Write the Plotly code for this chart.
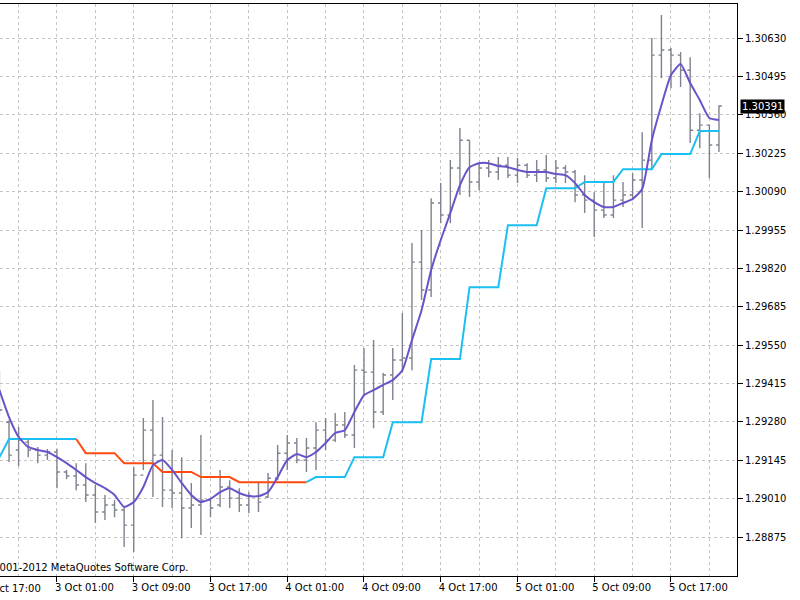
import plotly.graph_objects as go
import pandas as pd

# ---- data (EURUSD-style H1 bars, 2 Oct 19:00 .. 5 Oct 22:00) ----
first_bar = "2012-10-02 19:00"

open_ = [1.29445, 1.29279, 1.29181, 1.29209, 1.29181, 1.29163,
         1.29174, 1.29104, 1.29090, 1.29058, 1.29023, 1.28963, 1.28988, 1.28970, 1.28917, 1.29093,
         1.29251, 1.29163, 1.29040, 1.29030, 1.28977, 1.28988, 1.29005, 1.28988, 1.29051, 1.29012,
         1.28988, 1.29019, 1.29016, 1.29082, 1.29170, 1.29206, 1.29146, 1.29188, 1.29251, 1.29216,
         1.29269, 1.29234, 1.29462, 1.29455, 1.29315, 1.29445, 1.29498, 1.29505, 1.29842, 1.29744,
         1.30050, 1.30008, 1.30173, 1.30271, 1.30124, 1.30173, 1.30159, 1.30183, 1.30148, 1.30183,
         1.30148, 1.30166, 1.30138, 1.30173, 1.30159, 1.30078, 1.30060, 1.30025, 1.30008, 1.30060,
         1.30078, 1.30131, 1.30201, 1.30570, 1.30588, 1.30570, 1.30517, 1.30306, 1.30324, 1.30254]

high = [1.29462, 1.29286, 1.29262, 1.29223, 1.29192, 1.29185,
        1.29185, 1.29111, 1.29135, 1.29135, 1.29058, 1.29023, 1.29005, 1.28981, 1.29121, 1.29294,
        1.29357, 1.29297, 1.29181, 1.29156, 1.29065, 1.29234, 1.29012, 1.29111, 1.29075, 1.29047,
        1.29033, 1.29065, 1.29100, 1.29199, 1.29234, 1.29223, 1.29223, 1.29279, 1.29294, 1.29311,
        1.29315, 1.29480, 1.29540, 1.29568, 1.29452, 1.29540, 1.29663, 1.29909, 1.29955, 1.30067,
        1.30120, 1.30201, 1.30314, 1.30271, 1.30194, 1.30201, 1.30212, 1.30212, 1.30208, 1.30190,
        1.30201, 1.30219, 1.30201, 1.30183, 1.30166, 1.30148, 1.30088, 1.30120, 1.30148, 1.30124,
        1.30155, 1.30299, 1.30630, 1.30711, 1.30595, 1.30581, 1.30563, 1.30366, 1.30324, 1.30394]

low = [1.29304, 1.29139, 1.29125, 1.29156, 1.29135, 1.29146,
       1.29047, 1.29079, 1.29040, 1.28998, 1.28924, 1.28935, 1.28945, 1.28840, 1.28822, 1.29111,
       1.29016, 1.28981, 1.28977, 1.28871, 1.28907, 1.28882, 1.28945, 1.28981, 1.28977, 1.28963,
       1.28959, 1.28963, 1.29012, 1.29075, 1.29111, 1.29135, 1.29104, 1.29111, 1.29181, 1.29209,
       1.29223, 1.29188, 1.29374, 1.29258, 1.29304, 1.29357, 1.29455, 1.29462, 1.29709, 1.29719,
       1.29979, 1.29979, 1.30078, 1.30071, 1.30095, 1.30141, 1.30131, 1.30138, 1.30120, 1.30138,
       1.30124, 1.30124, 1.30120, 1.30120, 1.30053, 1.30015, 1.29930, 1.29997, 1.29997, 1.30036,
       1.30060, 1.29962, 1.30166, 1.30489, 1.30454, 1.30458, 1.30261, 1.30243, 1.30138, 1.30229]

close_ = [1.29322, 1.29163, 1.29216, 1.29181, 1.29163, 1.29174,
          1.29104, 1.29090, 1.29058, 1.29023, 1.28963, 1.28988, 1.28970, 1.28917, 1.29093, 1.29251,
          1.29163, 1.29040, 1.29030, 1.28977, 1.28988, 1.29005, 1.28977, 1.29051, 1.29012, 1.28988,
          1.29019, 1.28998, 1.29082, 1.29170, 1.29206, 1.29146, 1.29188, 1.29251, 1.29216, 1.29269,
          1.29234, 1.29462, 1.29455, 1.29315, 1.29445, 1.29498, 1.29505, 1.29842, 1.29744, 1.30050,
          1.30008, 1.30173, 1.30271, 1.30124, 1.30173, 1.30159, 1.30183, 1.30148, 1.30183, 1.30148,
          1.30166, 1.30138, 1.30173, 1.30159, 1.30078, 1.30060, 1.30025, 1.30008, 1.30060, 1.30078,
          1.30131, 1.30201, 1.30570, 1.30588, 1.30570, 1.30517, 1.30306, 1.30324, 1.30254, 1.30391]

# moving average line (purple)
ma = [1.29392, 1.29297, 1.29227, 1.29192, 1.29181, 1.29174,
      1.29156, 1.29135, 1.29111, 1.29086, 1.29065, 1.29047, 1.29023, 1.28981, 1.28998, 1.29051,
      1.29128, 1.29146, 1.29111, 1.29065, 1.29023, 1.28998, 1.29009, 1.29033, 1.29047, 1.29030,
      1.29019, 1.29019, 1.29033, 1.29086, 1.29146, 1.29167, 1.29156, 1.29174, 1.29206, 1.29241,
      1.29251, 1.29315, 1.29374, 1.29392, 1.29410, 1.29427, 1.29462, 1.29568, 1.29673, 1.29814,
      1.29920, 1.30015, 1.30113, 1.30176, 1.30190, 1.30190, 1.30180, 1.30176, 1.30166, 1.30159,
      1.30159, 1.30159, 1.30152, 1.30148, 1.30120, 1.30078, 1.30053, 1.30036, 1.30036, 1.30050,
      1.30064, 1.30099, 1.30271, 1.30394, 1.30500, 1.30539, 1.30472, 1.30412, 1.30349, 1.30342]

# higher-timeframe step line (cyan when rising, orange-red when falling)
step = [1.29156, 1.29220, 1.29220, 1.29220, 1.29220, 1.29220,
        1.29220, 1.29220, 1.29220, 1.29170, 1.29170, 1.29170, 1.29170, 1.29135, 1.29135, 1.29135,
        1.29135, 1.29104, 1.29104, 1.29104, 1.29104, 1.29086, 1.29086, 1.29086, 1.29086, 1.29068,
        1.29068, 1.29068, 1.29068, 1.29068, 1.29068, 1.29068, 1.29068, 1.29086, 1.29086, 1.29086,
        1.29086, 1.29156, 1.29156, 1.29156, 1.29156, 1.29279, 1.29279, 1.29279, 1.29279, 1.29501,
        1.29501, 1.29501, 1.29501, 1.29754, 1.29754, 1.29754, 1.29754, 1.29972, 1.29972, 1.29972,
        1.29972, 1.30102, 1.30102, 1.30102, 1.30102, 1.30124, 1.30124, 1.30124, 1.30124, 1.30169,
        1.30169, 1.30169, 1.30169, 1.30222, 1.30222, 1.30222, 1.30222, 1.30303, 1.30303, 1.30303]

price_ticks = [1.28875, 1.29010, 1.29145, 1.29280, 1.29415, 1.29550, 1.29685,
               1.29820, 1.29955, 1.30090, 1.30225, 1.30360, 1.30495, 1.30630]

last_price = 1.30391
copyright_text = "© 2001-2012 MetaQuotes Software Corp."
left_cut_label = "2 Oct 17:00"

# ---- build ----
times = pd.date_range(first_bar, periods=len(close_), freq="h")

up = [None] * len(step)
dn = [None] * len(step)
direction = "up"
for i, v in enumerate(step):
    prev = direction
    if i > 0:
        if v > step[i - 1]:
            direction = "up"
        elif v < step[i - 1]:
            direction = "down"
    if direction == "up":
        up[i] = v
        if i > 0 and prev == "down":
            up[i - 1] = step[i - 1]
    else:
        dn[i] = v
        if i > 0 and prev == "up":
            dn[i - 1] = step[i - 1]

BAR = "#7d838e"
GRID = "#c4c4c4"
FONT = dict(family="DejaVu Sans", size=10, color="black")

fig = go.Figure()
fig.add_trace(go.Ohlc(
    x=times, open=open_, high=high, low=low, close=close_,
    increasing=dict(line=dict(color=BAR, width=1.4)),
    decreasing=dict(line=dict(color=BAR, width=1.4)),
    tickwidth=0.3, hoverinfo="skip", showlegend=False))
fig.add_trace(go.Scatter(x=times, y=up, mode="lines", connectgaps=False,
                         line=dict(color="#1cbff2", width=2), showlegend=False, hoverinfo="skip"))
fig.add_trace(go.Scatter(x=times, y=dn, mode="lines", connectgaps=False,
                         line=dict(color="#ff4a10", width=2), showlegend=False, hoverinfo="skip"))
fig.add_trace(go.Scatter(x=times, y=ma, mode="lines",
                         line=dict(color="#6a52c8", width=2, shape="spline", smoothing=0.5),
                         showlegend=False, hoverinfo="skip"))

t0 = pd.Timestamp("2012-10-03 01:00")
x_lo = t0 + pd.Timedelta(hours=-5.94)
x_hi = t0 + pd.Timedelta(hours=70.88)

fig.update_layout(
    width=800, height=600,
    margin=dict(l=0, r=63, t=4, b=24),
    paper_bgcolor="white", plot_bgcolor="white",
    font=FONT,
    xaxis=dict(
        type="date", range=[x_lo, x_hi],
        tick0=t0, dtick=8 * 3600000, tickformat="%-d %b %H:%M",
        ticks="outside", ticklen=5, tickcolor="black",
        ticklabelposition="outside right", ticklabelstandoff=2, ticklabelshift=-3,
        showline=True, linecolor="black", linewidth=1, mirror=True,
        showgrid=True, gridcolor=GRID, griddash="3px,3px", gridwidth=1,
        minor=dict(dtick=4 * 3600000, tick0=t0, showgrid=True, gridcolor=GRID,
                   griddash="3px,3px", gridwidth=1, ticks=""),
        rangeslider=dict(visible=False),
        tickfont=FONT, fixedrange=True,
    ),
    yaxis=dict(
        side="right", range=[1.28738, 1.30750],
        tickmode="array", tickvals=price_ticks,
        ticktext=[f"{v:.5f}" for v in price_ticks],
        ticks="outside", ticklen=5, tickcolor="black",
        showline=True, linecolor="black", linewidth=1,
        showgrid=True, gridcolor=GRID, griddash="3px,3px", gridwidth=1,
        zeroline=False, tickfont=FONT, fixedrange=True,
    ),
    annotations=[
        dict(xref="paper", yref="y", x=1, y=last_price, xanchor="left", yanchor="middle",
             xshift=3, text=f"{last_price:.5f}", showarrow=False, bgcolor="black",
             font=dict(family="DejaVu Sans", size=10, color="white"), borderpad=1),
        dict(xref="paper", yref="paper", x=190 / 737, y=9 / 572, xanchor="right", yanchor="middle",
             text=copyright_text, showarrow=False, font=FONT),
        dict(xref="paper", yref="paper", x=43 / 737, y=0, xanchor="right", yanchor="top",
             yshift=-5, text=left_cut_label, showarrow=False, font=FONT),
    ],
)

fig.write_html("out.html")
